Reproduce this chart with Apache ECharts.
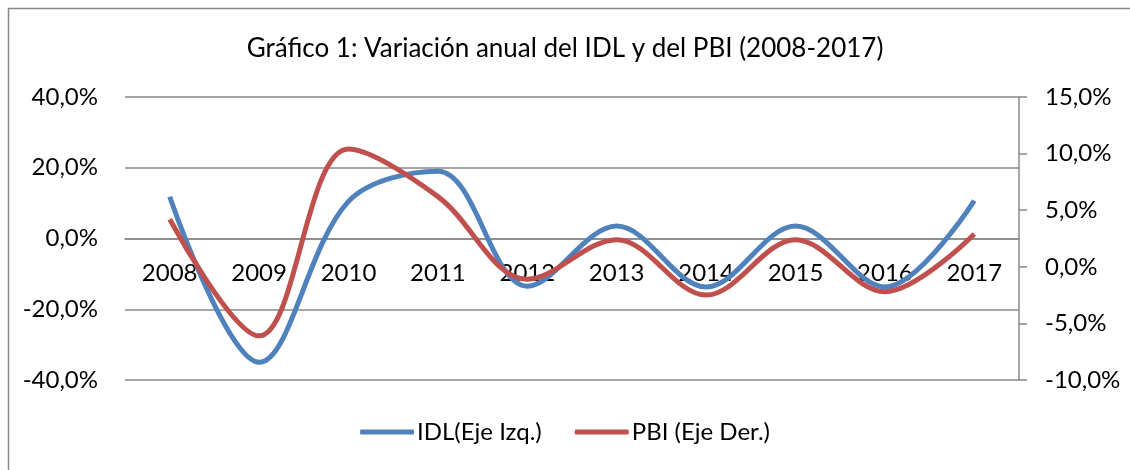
<!DOCTYPE html>
<html>
<head>
<meta charset="utf-8">
<script src="https://cdn.jsdelivr.net/npm/echarts@6/dist/echarts.min.js"></script>
<style>
  html, body { margin: 0; padding: 0; background: #fff; }
  #chart { width: 1130px; height: 470px; }
</style>
</head>
<body>
<div id="chart"></div>
<script>
const years = ['2008', '2009', '2010', '2011', '2012', '2013', '2014', '2015', '2016', '2017'];
// variación anual en %
const idl = [11.8, -35.0, 10.5, 19.0, -13.5, 3.5, -13.7, 3.5, -13.7, 10.7];
const pbi = [4.2, -6.1, 10.4, 6.2, -1.1, 2.4, -2.5, 2.4, -2.2, 2.9];

const font = 'Lato, "Open Sans", sans-serif';
const pct = v => v.toFixed(1).replace('.', ',') + '%';

const chart = echarts.init(document.getElementById('chart'));
chart.setOption({
  backgroundColor: '#fff',
  animation: false,
  textStyle: { fontFamily: font, color: '#000' },
  graphic: [{
    type: 'rect',
    shape: { x: 8.5, y: 8.5, width: 1140, height: 480 },
    style: { fill: 'none', stroke: '#888', lineWidth: 1.5 },
    silent: true
  }],
  title: {
    text: 'Gráfico 1: Variación anual del IDL y del PBI (2008-2017)',
    left: 'center',
    top: 31,
    textStyle: { fontFamily: font, fontSize: 26, fontWeight: 'normal', color: '#000' }
  },
  legend: {
    bottom: 21,
    left: 'center',
    itemWidth: 54,
    itemHeight: 5,
    itemGap: 33,
    icon: 'roundRect',
    textStyle: { fontFamily: font, fontSize: 24, color: '#000', padding: [0, 0, 0, -2] },
    data: ['IDL(Eje Izq.)', 'PBI (Eje Der.)']
  },
  grid: { left: 125, right: 111, top: 97, bottom: 90 },
  xAxis: {
    type: 'category',
    data: years,
    boundaryGap: true,
    offset: -141.5, // eje de categorías a la altura del 0% izquierdo
    axisLine: { onZero: false, lineStyle: { color: '#888', width: 1.5 } },
    axisTick: { show: false },
    axisLabel: { color: '#000', fontSize: 24, fontFamily: font, margin: 23 },
    splitLine: { show: false }
  },
  yAxis: [{
    type: 'value',
    min: -40,
    max: 40,
    interval: 20,
    axisLine: { show: false },
    axisTick: { show: false },
    axisLabel: { color: '#000', fontSize: 24, fontFamily: font, margin: 27, formatter: pct },
    splitLine: { lineStyle: { color: '#888', width: 1.5 } }
  }, {
    type: 'value',
    min: -10,
    max: 15,
    interval: 5,
    position: 'right',
    axisLine: { show: true, lineStyle: { color: '#888', width: 1.5 } },
    axisTick: { show: true, length: 8, lineStyle: { color: '#888', width: 1.5 } },
    axisLabel: { color: '#000', fontSize: 24, fontFamily: font, margin: 26, formatter: pct },
    splitLine: { show: false }
  }],
  series: [{
    name: 'IDL(Eje Izq.)',
    type: 'line',
    yAxisIndex: 0,
    data: idl,
    smooth: 0.35,
    symbol: 'none',
    lineStyle: { color: '#4F81BD', width: 5 },
    itemStyle: { color: '#4F81BD' }
  }, {
    name: 'PBI (Eje Der.)',
    type: 'line',
    yAxisIndex: 1,
    data: pbi,
    smooth: 0.35,
    symbol: 'none',
    lineStyle: { color: '#C0504D', width: 5 },
    itemStyle: { color: '#C0504D' }
  }]
});
</script>
</body>
</html>
